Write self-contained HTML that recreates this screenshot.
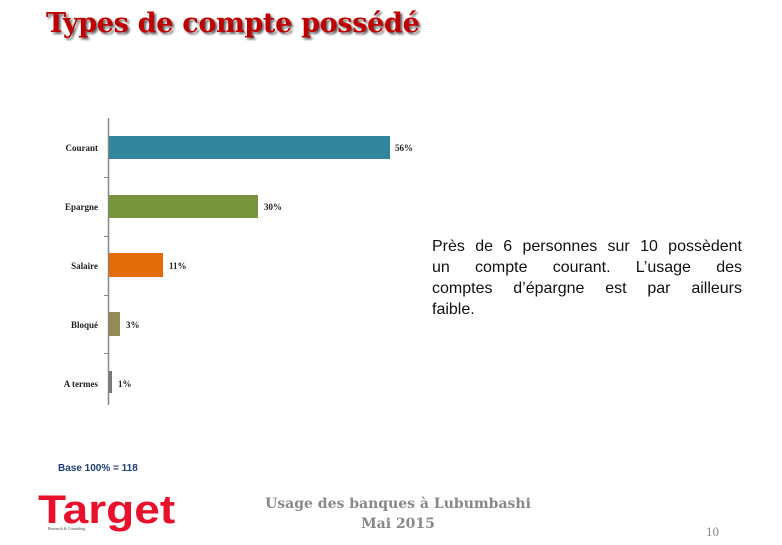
<!DOCTYPE html><html><head><meta charset="utf-8"><style>
body{margin:0;width:782px;height:545px;background:#fff;overflow:hidden;position:relative;font-family:"Liberation Serif",serif}
.a{position:absolute}
.j{text-align:justify;text-align-last:justify}
</style></head><body>
<div class="a" style="left:46px;top:8px;font-family:'DejaVu Serif',serif;font-size:27px;font-weight:bold;color:#c00000;text-shadow:2px 2px 2px #666;white-space:nowrap;letter-spacing:-0.3px">Types de compte possédé</div>
<svg class="a" style="left:0;top:0" width="782" height="545">
<line x1="108.5" y1="118" x2="108.5" y2="405" stroke="#888" stroke-width="1.5"/>
<g stroke="#888"><line x1="104" y1="177.5" x2="108" y2="177.5"/><line x1="104" y1="236.5" x2="108" y2="236.5"/><line x1="104" y1="295.5" x2="108" y2="295.5"/><line x1="104" y1="353.5" x2="108" y2="353.5"/></g>
<rect x="109" y="136" width="281" height="23" fill="#31859c"/>
<rect x="109" y="195" width="149" height="23" fill="#77933c"/>
<rect x="109" y="253" width="54" height="24" fill="#e36c09"/>
<rect x="109" y="312" width="11" height="24" fill="#948a54"/>
<rect x="109" y="371" width="3" height="22" fill="#777"/>
<g font-family="Liberation Serif,serif" font-size="9" font-weight="bold" fill="#222">
<text x="98" y="151" text-anchor="end">Courant</text>
<text x="98" y="210" text-anchor="end">Epargne</text>
<text x="98" y="269" text-anchor="end">Salaire</text>
<text x="98" y="328" text-anchor="end">Bloqué</text>
<text x="98" y="387" text-anchor="end">A termes</text>
<text x="395" y="151">56%</text>
<text x="264" y="210">30%</text>
<text x="169" y="269">11%</text>
<text x="126" y="328">3%</text>
<text x="118" y="387">1%</text>
</g>
</svg>
<div class="a" style="left:432px;top:236px;width:310px;font-family:'Liberation Sans',sans-serif;font-size:16px;line-height:21px;color:#111">
<div class="j">Près de 6 personnes sur 10 possèdent</div>
<div class="j">un compte courant. L’usage des</div>
<div class="j">comptes d’épargne est par ailleurs</div>
<div>faible.</div>
</div>
<div class="a" style="left:58px;top:463px;font-family:'Liberation Sans',sans-serif;font-size:10px;font-weight:bold;color:#1f3e7a">Base 100% = 118</div>
<div class="a" style="left:38px;top:492px;font-family:'Liberation Sans',sans-serif;font-size:40px;font-weight:bold;color:#e8102a;line-height:36px;transform:scaleX(1.15);transform-origin:left">Target</div>
<div class="a" style="left:48px;top:526px;font-size:4px;color:#444">Research &amp; Consulting</div>
<div class="a" style="left:240px;top:494px;width:316px;text-align:center;font-family:'DejaVu Serif',serif;font-size:14px;font-weight:bold;color:#888;line-height:20px">Usage des banques à Lubumbashi<br>Mai 2015</div>
<div class="a" style="left:706px;top:524px;font-size:13px;color:#888">10</div>
</body></html>
